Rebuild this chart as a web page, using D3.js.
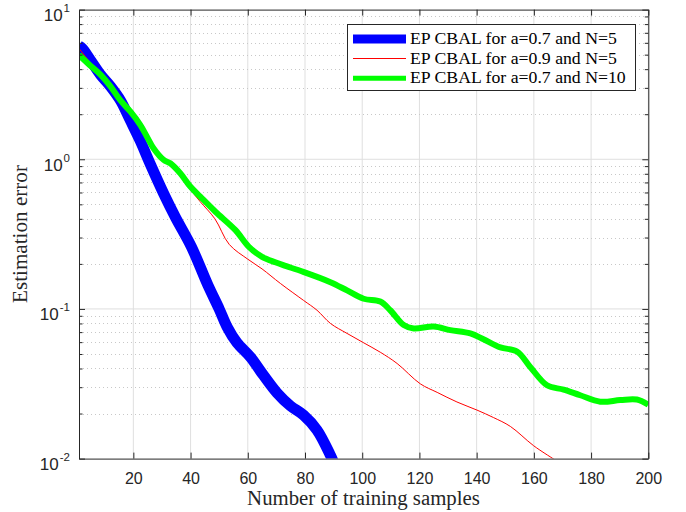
<!DOCTYPE html>
<html><head><meta charset="utf-8">
<script src="https://cdn.jsdelivr.net/npm/d3@7"></script>
<style>body{margin:0;background:#fff}svg{display:block}</style>
</head><body>
<svg id="c" width="686" height="512"></svg>
<script>
// ---- data ----
const xTicks = [20, 40, 60, 80, 100, 120, 140, 160, 180, 200];
const yDecades = [1e-2, 1e-1, 1e0, 1e1];
const yExponents = ["-2", "-1", "0", "1"];
const seriesNames = ["EP CBAL for a=0.7 and N=5", "EP CBAL for a=0.9 and N=5", "EP CBAL for a=0.7 and N=10"];

const blueN = [1, 2.1, 5, 8.5, 12, 15.5, 19, 22.4, 25.9, 30.6, 34.7, 40.3, 46, 50, 52.8, 56.2, 60.9, 65.5, 70.2, 74.9, 79.5, 84.2, 88.9, 90];
const blueV = [5.7, 5.5, 4.6, 3.68, 3.07, 2.47, 1.81, 1.33, 0.93, 0.59, 0.41, 0.26, 0.145, 0.1, 0.0756, 0.0595, 0.0477, 0.036, 0.0275, 0.0225, 0.0195, 0.0155, 0.0105, 0.0094];

const redN = [1, 5, 8.5, 12, 15.5, 19, 22.4, 24.7, 27.1, 30.6, 32.9, 36.4, 39.9, 43.4, 48.5, 53.5, 60, 65, 71.4, 79.5, 84.2, 88.9, 94.7, 100.5, 106.3, 112.2, 120.3, 126.2, 133.1, 140.1, 145.9, 151.8, 159.9, 167, 168];
const redV = [5.5, 4.4, 3.6, 3.0, 2.42, 2.02, 1.66, 1.40, 1.16, 0.98, 0.93, 0.79, 0.63, 0.52, 0.40, 0.27, 0.215, 0.185, 0.148, 0.114, 0.098, 0.08, 0.0686, 0.0594, 0.0514, 0.0432, 0.0316, 0.0277, 0.0239, 0.0211, 0.0188, 0.0164, 0.0122, 0.0099, 0.0096];

const greenN = [1, 4.7, 8.5, 12, 15.5, 19, 22.4, 24.7, 27.1, 30.6, 32.9, 36.4, 39.9, 43.4, 48.7, 55.7, 60.3, 65, 69.6, 72.4, 79.4, 88.9, 94.7, 100.5, 106.3, 109.8, 114.5, 118, 125, 130.8, 137.8, 142.4, 148.3, 154.1, 158.8, 164.6, 170.4, 176.2, 183.2, 190.2, 196, 200];
const greenV = [4.97, 4.27, 3.68, 3.07, 2.47, 2.08, 1.70, 1.42, 1.18, 0.99, 0.94, 0.806, 0.657, 0.562, 0.446, 0.336, 0.261, 0.223, 0.205, 0.196, 0.177, 0.151, 0.133, 0.117, 0.112, 0.098, 0.078, 0.074, 0.0763, 0.0722, 0.0686, 0.0627, 0.0553, 0.052, 0.0408, 0.0309, 0.0289, 0.0265, 0.024, 0.0246, 0.0248, 0.0229];

// ---- layout ----
const L = 79, R = 648.3, T = 9.6, B = 458.6;
const svg = d3.select("#c");
const x = d3.scaleLinear().domain([1, 200]).range([L, R]);
const y = d3.scaleLog().domain([1e-2, 1e1]).range([B, T]);
const axisCol = "#262626";
const serif = "'Liberation Serif','Times New Roman',serif";
const sans = "'Liberation Sans',Arial,Helvetica,sans-serif";

// minor values
const minors = [];
[1e-2, 1e-1, 1e0].forEach(d => { for (let k = 2; k <= 9; k++) minors.push(d * k); });

// grid
const grid = svg.append("g");
grid.selectAll(".vg").data(xTicks).join("line")
  .attr("x1", d => x(d)).attr("x2", d => x(d)).attr("y1", T).attr("y2", B)
  .attr("stroke", "#dfdfdf").attr("stroke-width", 1);
grid.selectAll(".mg").data(minors).join("line")
  .attr("x1", L).attr("x2", R).attr("y1", d => Math.round(y(d)) + 0.5).attr("y2", d => Math.round(y(d)) + 0.5)
  .attr("stroke", "#c8c8c8").attr("stroke-width", 1).attr("stroke-dasharray", "1,3");
grid.selectAll(".hg").data(yDecades.slice(1, 3)).join("line")
  .attr("x1", L).attr("x2", R).attr("y1", d => y(d)).attr("y2", d => y(d))
  .attr("stroke", "#dfdfdf").attr("stroke-width", 1);

// clip
svg.append("clipPath").attr("id", "clip").append("rect")
  .attr("x", L).attr("y", T).attr("width", R - L).attr("height", B - T);

const line = d3.line().x(d => x(d[0])).y(d => y(d[1])).curve(d3.curveCatmullRom.alpha(0.5));
const zip = (a, b) => a.map((v, i) => [v, b[i]]);
const plot = svg.append("g").attr("clip-path", "url(#clip)");
const styles = [
  { n: blueN, v: blueV, c: "#0000ff", w: 11 },
  { n: redN, v: redV, c: "#ff0000", w: 1 },
  { n: greenN, v: greenV, c: "#00ff00", w: 6 }
];
styles.forEach(s => {
  plot.append("path").datum(zip(s.n, s.v)).attr("d", line)
    .attr("fill", "none").attr("stroke", s.c).attr("stroke-width", s.w)
    .attr("stroke-linejoin", "round");
});

// axes
const ax = svg.append("g");
const xb = d3.axisBottom(x).tickValues(xTicks).tickSizeInner(-6).tickSizeOuter(0).tickPadding(14);
ax.append("g").attr("transform", `translate(0,${B})`).call(xb)
  .call(g => { g.select(".domain").attr("stroke", axisCol);
    g.selectAll(".tick line").attr("stroke", axisCol);
    g.selectAll("text").attr("font-family", sans).attr("font-size", 16).attr("fill", "#262626"); });
const xt = d3.axisTop(x).tickValues(xTicks).tickSizeInner(-6).tickSizeOuter(0).tickFormat("");
ax.append("g").attr("transform", `translate(0,${T})`).call(xt)
  .call(g => { g.select(".domain").attr("stroke", axisCol); g.selectAll(".tick line").attr("stroke", axisCol); });

// y axes left & right
const yl = d3.axisLeft(y).tickValues(yDecades).tickSizeInner(-6).tickSizeOuter(0).tickFormat("");
const yr = d3.axisRight(y).tickValues(yDecades).tickSizeInner(-6).tickSizeOuter(0).tickFormat("");
ax.append("g").attr("transform", `translate(${L},0)`).call(yl)
  .call(g => { g.select(".domain").attr("stroke", axisCol); g.selectAll(".tick line").attr("stroke", axisCol); });
ax.append("g").attr("transform", `translate(${R},0)`).call(yr)
  .call(g => { g.select(".domain").attr("stroke", axisCol); g.selectAll(".tick line").attr("stroke", axisCol); });
const ylm = d3.axisLeft(y).tickValues(minors).tickSizeInner(-3.5).tickSizeOuter(0).tickFormat("");
const yrm = d3.axisRight(y).tickValues(minors).tickSizeInner(-3.5).tickSizeOuter(0).tickFormat("");
ax.append("g").attr("transform", `translate(${L},0)`).call(ylm)
  .call(g => { g.select(".domain").remove(); g.selectAll(".tick line").attr("stroke", axisCol); });
ax.append("g").attr("transform", `translate(${R},0)`).call(yrm)
  .call(g => { g.select(".domain").remove(); g.selectAll(".tick line").attr("stroke", axisCol); });

// y tick labels
const ylab = svg.append("g");
yDecades.forEach((d, i) => {
  const t = ylab.append("text").attr("x", 70).attr("y", y(d) + 11.5)
    .attr("text-anchor", "end").attr("font-family", sans).attr("font-size", 17).attr("fill", "#262626");
  t.append("tspan").text("10");
  t.append("tspan").attr("font-size", 11.5).attr("dy", -9).attr("dx", 1).text(yExponents[i]);
});

// fit-width helper
function fit(sel, target) {
  const w = sel.node().getComputedTextLength();
  const fs = parseFloat(sel.attr("font-size"));
  sel.attr("font-size", fs * target / w);
}

// axis labels
const xl = svg.append("text").attr("x", 363.5).attr("y", 505).attr("text-anchor", "middle")
  .attr("font-family", serif).attr("font-size", 18).attr("fill", "#262626").text("Number of training samples");
fit(xl, 233);
const yLab = svg.append("text").attr("transform", "translate(27,234) rotate(-90)").attr("text-anchor", "middle")
  .attr("font-family", serif).attr("font-size", 18).attr("fill", "#262626").text("Estimation error");
fit(yLab, 138);

// legend
const lg = svg.append("g");
lg.append("rect").attr("x", 347.5).attr("y", 24.5).attr("width", 288).attr("height", 66)
  .attr("fill", "#fff").attr("stroke", "#262626").attr("stroke-width", 1);
const legY = [39, 58.5, 78.3];
styles.forEach((s, i) => {
  lg.append("line").attr("x1", 353).attr("x2", 406).attr("y1", legY[i]).attr("y2", legY[i])
    .attr("stroke", s.c).attr("stroke-width", i === 0 ? 9 : (i === 1 ? 1 : 5));
  const t = lg.append("text").attr("x", 410).attr("y", legY[i] + 5).attr("font-family", serif)
    .attr("font-size", 15).attr("fill", "#000").text(seriesNames[i]);
  if (i === 0) t.call(sel => fit(sel, 207));
  else t.attr("font-size", lg.select("text").attr("font-size"));
});
</script>
</body></html>
